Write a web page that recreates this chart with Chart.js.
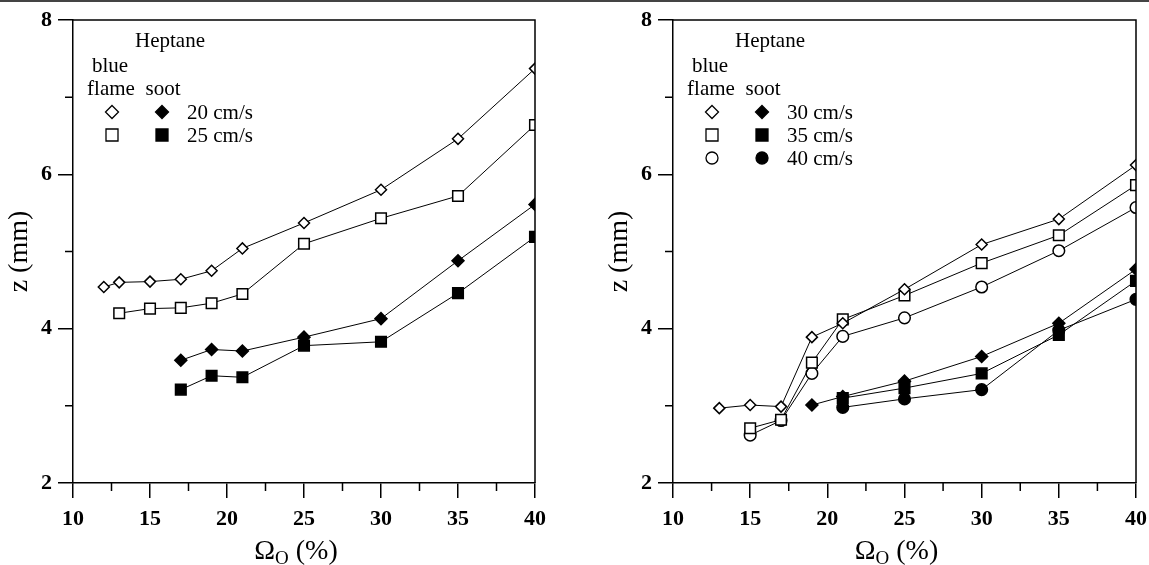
<!DOCTYPE html>
<html><head><meta charset="utf-8">
<script src="https://cdn.jsdelivr.net/npm/chart.js@4.4.0/dist/chart.umd.min.js"></script>
<style>
html,body{margin:0;padding:0;background:#fff;}
#wrap{position:relative;width:1149px;height:565px;overflow:hidden;background:#fff;}
#topline{position:absolute;left:0;top:0;width:1149px;height:2px;background:#444;}
#c1{position:absolute;left:0;top:0;}
#c2{position:absolute;left:575px;top:0;}
</style></head><body>
<div id="wrap">
<canvas id="c1" width="575" height="565"></canvas>
<canvas id="c2" width="594" height="565"></canvas>
<div id="topline"></div>
</div>
<script>
// ---- axis ticks ----
const xMajorTicks = [10, 15, 20, 25, 30, 35, 40];
const xMinorTicks = [12.5, 17.5, 22.5, 27.5, 32.5, 37.5];
const yMajorTicks = [2, 4, 6, 8];
const yMinorTicks = [3, 5, 7];

// ---- left panel (20 & 25 cm/s) ----
const leftBlue20X = [12, 13, 15, 17, 19, 21, 25, 30, 35, 40];
const leftBlue20Y = [4.54, 4.60, 4.61, 4.64, 4.75, 5.04, 5.37, 5.80, 6.46, 7.37];
const leftBlue25X = [13, 15, 17, 19, 21, 25, 30, 35, 40];
const leftBlue25Y = [4.20, 4.26, 4.27, 4.33, 4.45, 5.10, 5.43, 5.72, 6.64];
const leftSoot20X = [17, 19, 21, 25, 30, 35, 40];
const leftSoot20Y = [3.59, 3.73, 3.71, 3.89, 4.13, 4.88, 5.61];
const leftSoot25X = [17, 19, 21, 25, 30, 35, 40];
const leftSoot25Y = [3.21, 3.39, 3.37, 3.78, 3.83, 4.46, 5.19];

// ---- right panel (30, 35 & 40 cm/s) ----
const rightBlue30X = [13, 15, 17, 19, 21, 25, 30, 35, 40];
const rightBlue30Y = [2.97, 3.01, 2.99, 3.89, 4.07, 4.51, 5.09, 5.42, 6.12];
const rightBlue35X = [15, 17, 19, 21, 25, 30, 35, 40];
const rightBlue35Y = [2.71, 2.82, 3.56, 4.12, 4.43, 4.85, 5.21, 5.86];
const rightBlue40X = [15, 17, 19, 21, 25, 30, 35, 40];
const rightBlue40Y = [2.62, 2.81, 3.42, 3.90, 4.14, 4.54, 5.01, 5.57];
const rightSoot30X = [19, 21, 25, 30, 35, 40];
const rightSoot30Y = [3.01, 3.12, 3.32, 3.64, 4.07, 4.77];
const rightSoot35X = [21, 25, 30, 35, 40];
const rightSoot35Y = [3.10, 3.23, 3.42, 3.92, 4.62];
const rightSoot40X = [21, 25, 30, 35, 40];
const rightSoot40Y = [2.98, 3.09, 3.21, 3.98, 4.38];

const leftSpeeds = ['20 cm/s', '25 cm/s'];
const rightSpeeds = ['30 cm/s', '35 cm/s', '40 cm/s'];
const legendTitle = 'Heptane';
const xTitleMain = 'Ω';
const xTitleSub = 'O';
const xTitleTail = ' (%)';
const yTitle = 'z (mm)';

const SERIF = '"Liberation Serif", "Times New Roman", Times, serif';

function pts(xs, ys) { return xs.map((x, i) => ({x: x, y: ys[i]})); }

const STYLE = {
  diamond: {pointStyle: 'rectRot', pointRadius: 5.5},
  square: {pointStyle: 'rect', pointRadius: 7.5},
  circle: {pointStyle: 'circle', pointRadius: 5.8}
};

function ds(label, xs, ys, shape, filled) {
  const s = STYLE[shape];
  return {
    label: label,
    data: pts(xs, ys),
    borderColor: '#000',
    borderWidth: 1,
    tension: 0,
    fill: false,
    pointStyle: s.pointStyle,
    pointRadius: filled && shape === 'diamond' ? 6 : s.pointRadius,
    pointHoverRadius: s.pointRadius,
    pointBackgroundColor: filled ? '#000' : '#fff',
    pointBorderColor: '#000',
    pointBorderWidth: 1.5
  };
}

function drawMarker(ctx, shape, filled, x, y) {
  ctx.save();
  ctx.lineWidth = 1.3;
  ctx.strokeStyle = '#000';
  ctx.fillStyle = filled ? '#000' : '#fff';
  ctx.beginPath();
  if (shape === 'diamond') {
    const r = 6.5;
    ctx.moveTo(x, y - r); ctx.lineTo(x + r, y); ctx.lineTo(x, y + r); ctx.lineTo(x - r, y); ctx.closePath();
  } else if (shape === 'square') {
    const h = 6;
    ctx.rect(x - h, y - h, 2 * h, 2 * h);
  } else {
    ctx.arc(x, y, 6, 0, Math.PI * 2);
  }
  ctx.fill(); ctx.stroke();
  ctx.restore();
}

function decorPlugin(speeds, shapes) {
  return {
    id: 'decor',
    afterDraw(chart) {
      const ctx = chart.ctx;
      const a = chart.chartArea;
      const xs = chart.scales.x, ys = chart.scales.y;
      ctx.save();
      // frame top/right
      ctx.strokeStyle = '#000';
      ctx.lineWidth = 1.5;
      ctx.beginPath();
      ctx.moveTo(a.left, a.top); ctx.lineTo(a.right, a.top); ctx.lineTo(a.right, a.bottom);
      ctx.stroke();
      // minor ticks
      ctx.lineWidth = 1.5;
      ctx.beginPath();
      yMinorTicks.forEach(v => { const p = ys.getPixelForValue(v); ctx.moveTo(a.left - 8, p); ctx.lineTo(a.left, p); });
      xMinorTicks.forEach(v => { const p = xs.getPixelForValue(v); ctx.moveTo(p, a.bottom); ctx.lineTo(p, a.bottom + 8); });
      ctx.stroke();
      // y title
      ctx.fillStyle = '#000';
      ctx.font = '28px ' + SERIF;
      ctx.textAlign = 'center';
      ctx.textBaseline = 'middle';
      ctx.save();
      ctx.translate(a.left - 53, (a.top + a.bottom) / 2);
      ctx.rotate(-Math.PI / 2);
      ctx.fillText(yTitle, 0, 0);
      ctx.restore();
      // x title with subscript
      ctx.textAlign = 'left';
      ctx.textBaseline = 'alphabetic';
      const fMain = '28px ' + SERIF, fSub = '19px ' + SERIF;
      ctx.font = fMain; const w1 = ctx.measureText(xTitleMain).width; const w3 = ctx.measureText(xTitleTail).width;
      ctx.font = fSub; const w2 = ctx.measureText(xTitleSub).width;
      let x0 = (a.left + a.right) / 2 - 8 - (w1 + w2 + w3) / 2;
      const base = 559;
      ctx.font = fMain; ctx.fillText(xTitleMain, x0, base); x0 += w1;
      ctx.font = fSub; ctx.fillText(xTitleSub, x0, base + 5); x0 += w2;
      ctx.font = fMain; ctx.fillText(xTitleTail, x0, base);
      // legend
      const L = a.left;
      ctx.font = '21px ' + SERIF;
      ctx.textAlign = 'left';
      ctx.fillText(legendTitle, L + 62, 47);
      ctx.textAlign = 'center';
      ctx.fillText('blue', L + 37, 72);
      ctx.fillText('flame', L + 38, 95);
      ctx.fillText('soot', L + 90, 95);
      ctx.textAlign = 'left';
      speeds.forEach((s, i) => {
        const y = 112 + i * 23;
        drawMarker(ctx, shapes[i], false, L + 39, y);
        drawMarker(ctx, shapes[i], true, L + 89, y);
        ctx.fillStyle = '#000';
        ctx.fillText(s, L + 114, y + 7);
      });
      ctx.restore();
    }
  };
}

function makeChart(id, datasets, leftW, rightPad, speeds, shapes) {
  const tickFont = {family: SERIF, size: 22, weight: 'bold'};
  return new Chart(document.getElementById(id), {
    type: 'line',
    data: {datasets: datasets},
    options: {
      responsive: false,
      animation: false,
      events: [],
      layout: {padding: {left: 0, top: 20, right: rightPad, bottom: 0}},
      plugins: {legend: {display: false}, tooltip: {enabled: false}},
      scales: {
        x: {
          type: 'linear', min: 10, max: 40,
          afterBuildTicks(s) { s.ticks = xMajorTicks.map(v => ({value: v})); },
          afterFit(s) { s.height = 82; },
          ticks: {font: tickFont, color: '#000', padding: 8, maxRotation: 0, autoSkip: false},
          grid: {display: true, drawOnChartArea: false, drawTicks: true, tickLength: 15, color: '#000', lineWidth: 1.5},
          border: {display: true, color: '#000', width: 1.5}
        },
        y: {
          type: 'linear', min: 2, max: 8,
          afterBuildTicks(s) { s.ticks = yMajorTicks.map(v => ({value: v})); },
          afterFit(s) { s.width = leftW; },
          ticks: {font: tickFont, color: '#000', padding: 6, autoSkip: false},
          grid: {display: true, drawOnChartArea: false, drawTicks: true, tickLength: 15, color: '#000', lineWidth: 1.5},
          border: {display: true, color: '#000', width: 1.5}
        }
      }
    },
    plugins: [decorPlugin(speeds, shapes)]
  });
}

makeChart('c1', [
  ds('20 blue', leftBlue20X, leftBlue20Y, 'diamond', false),
  ds('25 blue', leftBlue25X, leftBlue25Y, 'square', false),
  ds('20 soot', leftSoot20X, leftSoot20Y, 'diamond', true),
  ds('25 soot', leftSoot25X, leftSoot25Y, 'square', true)
], 73, 40, leftSpeeds, ['diamond', 'square']);

makeChart('c2', [
  ds('30 blue', rightBlue30X, rightBlue30Y, 'diamond', false),
  ds('35 blue', rightBlue35X, rightBlue35Y, 'square', false),
  ds('40 blue', rightBlue40X, rightBlue40Y, 'circle', false),
  ds('30 soot', rightSoot30X, rightSoot30Y, 'diamond', true),
  ds('35 soot', rightSoot35X, rightSoot35Y, 'square', true),
  ds('40 soot', rightSoot40X, rightSoot40Y, 'circle', true)
], 98, 33, rightSpeeds, ['diamond', 'square', 'circle']);
</script>
</body></html>
